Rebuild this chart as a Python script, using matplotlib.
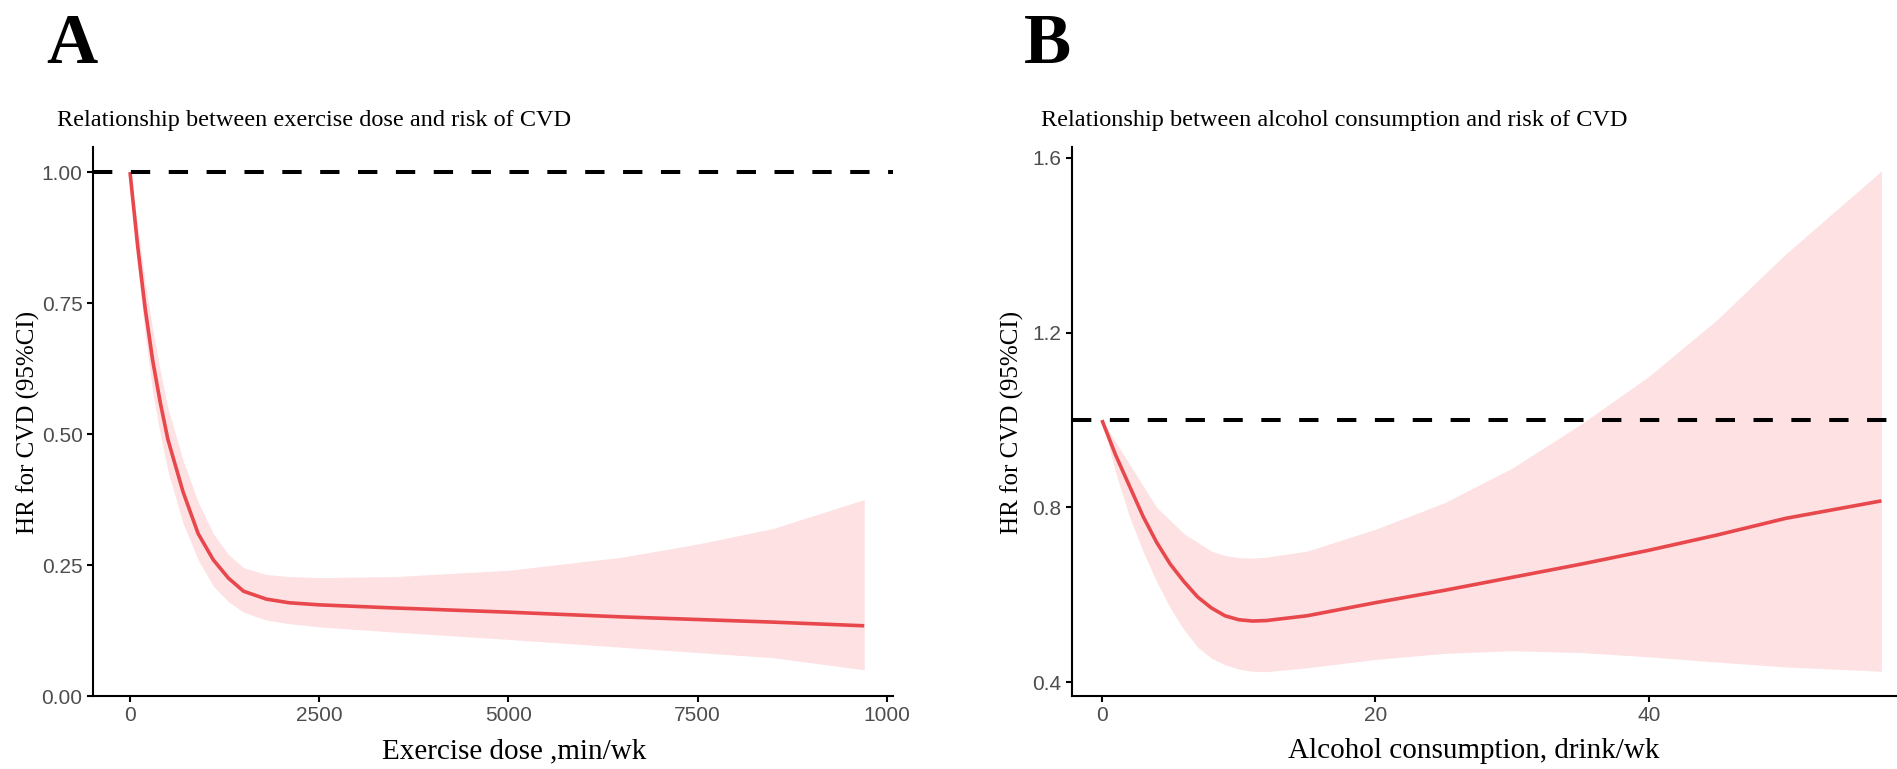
import matplotlib
matplotlib.use("Agg")
import matplotlib.pyplot as plt

# ---- Data ----
ex_x = [0, 100, 200, 300, 400, 500, 700, 900, 1100, 1300, 1500, 1800, 2100, 2500, 3500, 5000, 6500, 7500, 8500, 9700]
ex_hr = [1.00, 0.86, 0.74, 0.64, 0.56, 0.49, 0.39, 0.31, 0.26, 0.225, 0.20, 0.185, 0.178, 0.174, 0.168, 0.160, 0.151, 0.146, 0.141, 0.134]
ex_up = [1.00, 0.90, 0.79, 0.70, 0.62, 0.55, 0.45, 0.37, 0.31, 0.27, 0.245, 0.232, 0.228, 0.226, 0.228, 0.240, 0.265, 0.29, 0.32, 0.375]
ex_lo = [1.00, 0.82, 0.69, 0.58, 0.50, 0.43, 0.33, 0.26, 0.21, 0.18, 0.16, 0.145, 0.138, 0.132, 0.122, 0.108, 0.093, 0.083, 0.073, 0.05]

al_x = [0, 1, 2, 3, 4, 5, 6, 7, 8, 9, 10, 11, 12, 15, 20, 25, 30, 35, 40, 45, 50, 57]
al_hr = [1.00, 0.92, 0.85, 0.78, 0.72, 0.67, 0.63, 0.595, 0.57, 0.552, 0.543, 0.540, 0.541, 0.552, 0.582, 0.610, 0.640, 0.670, 0.702, 0.737, 0.775, 0.815]
al_up = [1.00, 0.95, 0.90, 0.85, 0.80, 0.77, 0.74, 0.72, 0.70, 0.69, 0.685, 0.684, 0.686, 0.70, 0.75, 0.81, 0.89, 0.99, 1.10, 1.23, 1.38, 1.57]
al_lo = [1.00, 0.88, 0.78, 0.70, 0.63, 0.57, 0.52, 0.48, 0.455, 0.44, 0.43, 0.425, 0.424, 0.433, 0.452, 0.466, 0.472, 0.468, 0.458, 0.446, 0.435, 0.425]

ex_ticks = [0, 2500, 5000, 7500, 10000]
ex_ticklabels = ["0", "2500", "5000", "7500", "1000"]
ex_yticks = [0.00, 0.25, 0.50, 0.75, 1.00]
ex_yticklabels = ["0.00", "0.25", "0.50", "0.75", "1.00"]
al_ticks = [0, 20, 40]
al_yticks = [0.4, 0.8, 1.2, 1.6]
al_yticklabels = ["0.4", "0.8", "1.2", "1.6"]

line_col = "#E8474C"
band_col = "#FDE1E3"
serif = ["Liberation Serif", "DejaVu Serif"]
sans = ["Liberation Sans", "DejaVu Sans"]

W, H = 1897, 769
fig = plt.figure(figsize=(W / 100, H / 100), dpi=100)

def px_axes(l, t, r, b):
    return fig.add_axes([l / W, 1 - b / H, (r - l) / W, (b - t) / H])

ax1 = px_axes(93, 147, 893, 696)
ax2 = px_axes(1072, 147, 1906, 696)

def style(ax):
    for s in ["top", "right"]:
        ax.spines[s].set_visible(False)
    for s in ["left", "bottom"]:
        ax.spines[s].set_linewidth(1.5)
        ax.spines[s].set_color("black")
    ax.tick_params(direction="out", length=4, width=1.5, color="black",
                   labelsize=15, labelcolor="#4D4D4D", pad=3.5)
    for lab in ax.get_xticklabels() + ax.get_yticklabels():
        lab.set_family(sans)

dash = (0, (4.8, 4.6))

# Panel A
ax1.fill_between(ex_x, ex_lo, ex_up, color=band_col, lw=0)
ax1.plot(ex_x, ex_hr, color=line_col, lw=2.6, solid_capstyle="butt")
ax1.axhline(1.0, color="black", lw=2.9, ls=dash)
ax1.set_xlim(-489, 10080)
ax1.set_ylim(0, 1.048)
ax1.set_xticks(ex_ticks)
ax1.set_xticklabels(ex_ticklabels)
ax1.set_yticks(ex_yticks)
ax1.set_yticklabels(ex_yticklabels)
style(ax1)

# Panel B
ax2.fill_between(al_x, al_lo, al_up, color=band_col, lw=0)
ax2.plot(al_x, al_hr, color=line_col, lw=2.6, solid_capstyle="butt")
ax2.axhline(1.0, color="black", lw=2.9, ls=dash)
ax2.set_xlim(-2.19, 58.8)
ax2.set_ylim(0.3684, 1.625)
ax2.set_xticks(al_ticks)
ax2.set_yticks(al_yticks)
ax2.set_yticklabels(al_yticklabels)
style(ax2)

# Texts
fig.text(46 / W, 1 - 63 / H, "A", family=serif, fontsize=51, fontweight="bold", ha="left", va="baseline")
fig.text(1024 / W, 1 - 63 / H, "B", family=serif, fontsize=51, fontweight="bold", ha="left", va="baseline")
fig.text(57 / W, 1 - 126 / H, "Relationship between exercise dose and risk of CVD",
         family=serif, fontsize=17.5, ha="left", va="baseline")
fig.text(1041 / W, 1 - 126 / H, "Relationship between alcohol consumption and risk of CVD",
         family=serif, fontsize=17.5, ha="left", va="baseline")
fig.text(28 / W, 1 - 422 / H, "HR for CVD (95%CI)", family=serif, fontsize=18,
         rotation=90, ha="center", va="center")
fig.text(1012 / W, 1 - 422 / H, "HR for CVD (95%CI)", family=serif, fontsize=18,
         rotation=90, ha="center", va="center")
fig.text(514 / W, 1 - 751 / H, "Exercise dose ,min/wk", family=serif, fontsize=21,
         ha="center", va="center")
fig.text(1474 / W, 1 - 751 / H, "Alcohol consumption, drink/wk", family=serif, fontsize=21,
         ha="center", va="center")

fig.savefig("out.png", dpi=100, facecolor="white")
